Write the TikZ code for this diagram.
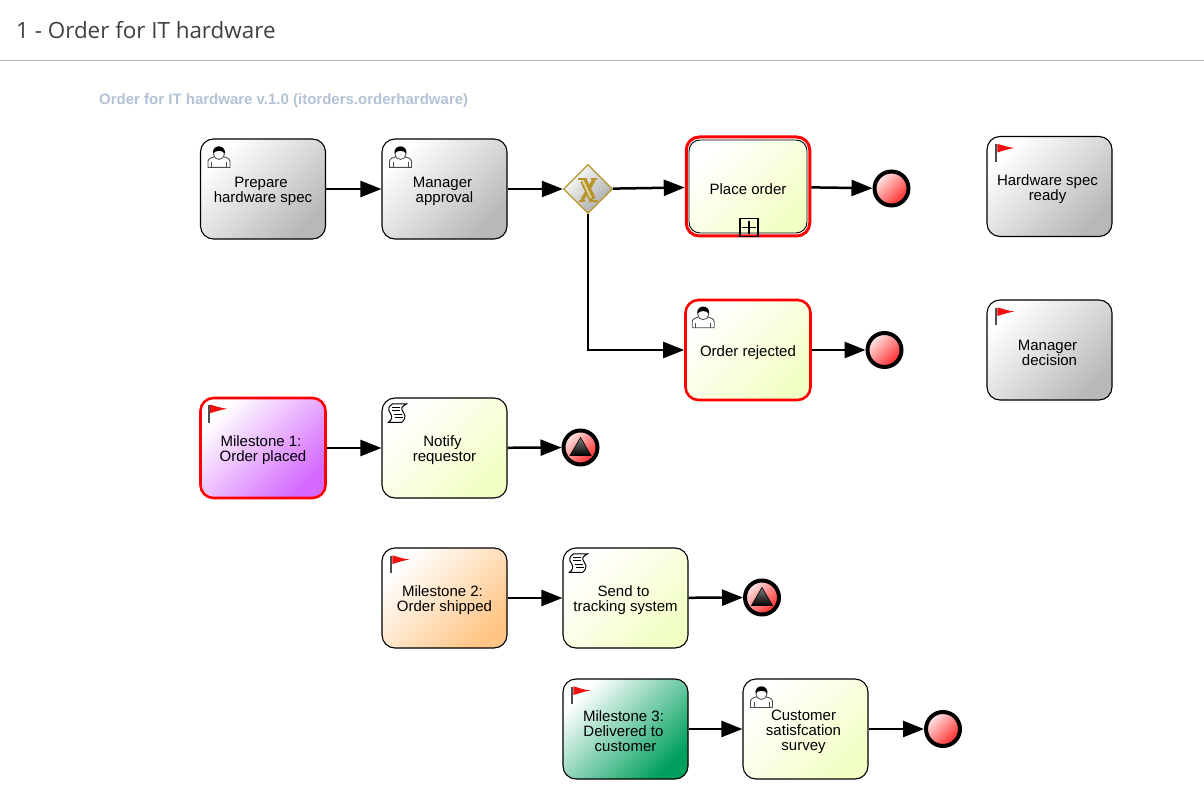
\documentclass[tikz,border=0pt]{standalone}
\usepackage{fontspec}
\setmainfont{Liberation Sans}
\newfontfamily\titlefont{Open Sans}
\usetikzlibrary{arrows.meta,shapes.geometric}

\definecolor{flagred}{HTML}{F01010}
\definecolor{gatewaygold}{HTML}{B8952A}
\definecolor{subtitleblue}{HTML}{B4C2D6}
\definecolor{taskgray}{HTML}{B8B8B8}
\definecolor{taskyellow}{HTML}{F2FFC4}
\definecolor{taskpurple}{HTML}{D468FF}
\definecolor{taskorange}{HTML}{FFC585}
\definecolor{taskgreen}{HTML}{00A05E}
\newcommand{\lsp}{\hspace*{4pt}}

\begin{document}
\begin{tikzpicture}[x=1pt,y=-1pt,>={Triangle[length=21pt,width=16pt]},
  fade/.style={top color=white,bottom color=#1,shading angle=45},
  task node/.style={rectangle,rounded corners=13pt,draw=black,line width=1.1pt,inner sep=0pt,
    minimum width=125pt,minimum height=100pt,align=center,font=\fontsize{15}{15}\selectfont,
    text height=16pt},
  two lines/.style={text height=31pt},
  three lines/.style={text height=46pt},
  gray node/.style={task node,fade=taskgray},
  yellow node/.style={task node,fade=taskyellow},
  red line/.style={draw=red,line width=2.6pt},
  end node/.style={circle,draw=black,line width=4pt,inner sep=0pt,minimum size=34pt,
    top color=red!8!white,bottom color=red!85!white,shading angle=45},
  gateway node/.style={diamond,draw=gatewaygold,line width=1.3pt,inner sep=0pt,aspect=1,
    minimum size=49pt,fade=black!35},
  flow/.style={->,line width=2.5pt},
  user icon/.pic={
    \draw[black!70,line width=.9pt,fill=white] (8,29) -- (8,23) .. controls (8,20) and (12,19) .. (15,18)
      -- (23,18) .. controls (26,19) and (30,20) .. (30,23) -- (30,29) -- cycle;
    \draw[black!70,line width=.8pt] (11.5,24) -- (11.5,29) (26.5,24) -- (26.5,29);
    \draw[black!70,line width=.8pt,fill=white] (19,15.5) circle (5.5pt);
    \fill[black] (13,15) .. controls (12,5.5) and (26,5.5) .. (25,15)
      .. controls (22,11.5) and (16,11.5) .. cycle;
  },
  flag icon/.pic={
    \draw[black!70,line width=2pt] (10,8.5) -- (10,26);
    \fill[flagred] (11,8) .. controls (16,9) and (21,11.5) .. (28,12)
      .. controls (22,13) and (16,15) .. (11,16.5) -- cycle;
  },
  script icon/.pic={
    \draw[line width=1pt,fill=white] (11,6.5) -- (25,6.5) .. controls (20,9) and (19,11) .. (22,15)
      .. controls (25,19) and (23,23) .. (20,25) -- (7,25) .. controls (11,22) and (11,19) .. (9,16)
      .. controls (6,12) and (7,9) .. (11,6.5) -- cycle;
    \draw[line width=1pt] (10.5,10) -- (19,10) (11,13.5) -- (18.5,13.5)
      (12.5,17) -- (21,17) (13.5,20.5) -- (21.5,20.5);
  },
  gold x/.pic={
    \draw[gatewaygold,line width=7pt] (-4.5,-9.5) -- (4.5,9.5);
    \draw[gatewaygold,line width=3.5pt] (6,-10) -- (-6,10);
    \draw[gatewaygold!45!white,line width=2pt] (-5,-9) -- (3,8);
    \draw[gatewaygold,line width=1.5pt] (-10,-11) -- (-1,-11) (3,-11) -- (9,-11)
      (-9,11) -- (-3,11) (1,11) -- (10,11);
  },
  end triangle/.pic={
    \shade[top color=black!50,bottom color=black,draw=black,line width=.6pt]
      (0,-10) -- (10.5,8) -- (-10.5,8) -- cycle;
  }]

  \useasboundingbox (0,0) rectangle (1204,810);
  \fill[white] (0,0) rectangle (1204,810);

  \node[anchor=west,inner sep=0pt,font=\titlefont\fontsize{22.4}{24}\selectfont,text=black!75] (title) at (16,30.5) {1 - Order for IT hardware};
  \coordinate (ruleleft) at (0,60.5);
  \coordinate (ruleright) at (1204,60.5);
  \draw[black!30,line width=1pt] (ruleleft) -- (ruleright);
  \node[anchor=west,inner sep=0pt,text=subtitleblue,font=\bfseries\fontsize{15}{15}\selectfont] (subtitle) at (99,100.5) {Order for IT hardware v.1.0 (itorders.orderhardware)};

  \node[gray node,two lines] (prepare) at (263,189) {Prepare\lsp\\hardware spec};
  \node[gray node,two lines] (approval) at (444.5,189) {Manager\lsp\\approval};
  \node[gateway node] (gateway) at (588,189) {};
  \node[rectangle,rounded corners=13pt,red line,fill=white,line width=3pt,inner sep=0pt,minimum width=123.5pt,minimum height=99pt] (placeouter) at (748,186.5) {};
  \node[yellow node,line width=.9pt,minimum width=118pt,minimum height=93pt,rounded corners=11pt] (place) at (748,186.5) {Place order};
  \node[end node] (placeend) at (891.5,188.5) {};
  \node[yellow node,red line] (rejected) at (748,350) {Order rejected};
  \node[end node] (rejectedend) at (884.5,350) {};
  \node[gray node,two lines] (hardware) at (1049.5,186.5) {Hardware spec\lsp\\ready\lsp};
  \node[gray node,two lines] (decision) at (1049.5,350) {Manager\lsp\\decision};

  \node[task node,two lines,fade=taskpurple,red line] (milestoneone) at (263,448) {Milestone 1:\lsp\\Order placed};
  \node[yellow node,two lines] (notify) at (444.5,448) {Notify\lsp\\requestor};
  \node[end node] (notifyend) at (580.5,447.5) {};
  \node[task node,two lines,fade=taskorange] (milestonetwo) at (444.5,598) {Milestone 2:\lsp\\Order shipped};
  \node[yellow node,two lines] (tracking) at (625.5,598) {Send to\lsp\\tracking system};
  \node[end node] (trackingend) at (762,597.5) {};
  \node[task node,three lines,fade=taskgreen] (milestonethree) at (625.5,729) {Milestone 3:\lsp\\\mbox{Delivered to\lsp}\\customer};
  \node[yellow node,three lines] (survey) at (805.5,729) {Customer\lsp\\\mbox{satisfcation\lsp}\\survey\lsp};
  \node[end node] (surveyend) at (943,729) {};

  \pic at (prepare.north west) {user icon};
  \pic at (approval.north west) {user icon};
  \pic at (rejected.north west) {user icon};
  \pic at (survey.north west) {user icon};
  \pic at (hardware.north west) {flag icon};
  \pic at (decision.north west) {flag icon};
  \pic at (milestoneone.north west) {flag icon};
  \pic at (milestonetwo.north west) {flag icon};
  \pic at (milestonethree.north west) {flag icon};
  \pic at (notify.north west) {script icon};
  \pic at (tracking.north west) {script icon};
  \pic at ([yshift=-1pt]gateway.center) {gold x};
  \pic at (notifyend) {end triangle};
  \pic at (trackingend) {end triangle};

  \node[draw=black,line width=1.1pt,inner sep=0pt,minimum size=18pt] (expand) at (749,227.5) {};
  \draw[line width=1.1pt] ([yshift=-3pt]expand.north) -- ([yshift=3pt]expand.south)
    ([xshift=3pt]expand.west) -- ([xshift=-3pt]expand.east);

  \path[flow]
    (prepare) edge (approval)
    (approval) edge (gateway)
    (gateway) edge (placeouter)
    (placeouter) edge (placeend)
    (rejected) edge (rejectedend)
    (milestoneone) edge (notify)
    (notify) edge (notifyend)
    (milestonetwo) edge (tracking)
    (tracking) edge (trackingend)
    (milestonethree) edge (survey)
    (survey) edge (surveyend);
  \draw[flow] (gateway.south) |- (rejected.west);
\end{tikzpicture}
\end{document}
